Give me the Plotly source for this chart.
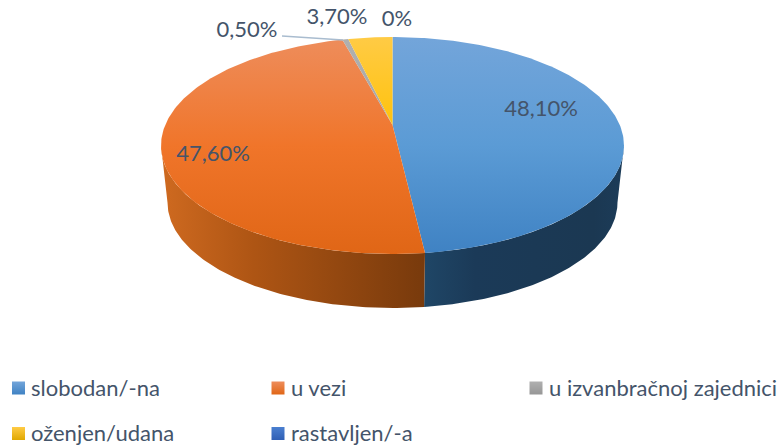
"""
Bracni status - 3D pie
"""

import numpy as np
import plotly.graph_objects as go

# data
categories = ['slobodan/-na', 'u vezi', 'u izvanbračnoj zajednici', 'oženjen/udana', 'rastavljen/-a']
values = [48.1, 47.6, 0.5, 3.7, 0.0]
value_labels = ['48,10%', '47,60%', '0,50%', '3,70%', '0%']

# top face gradients (top of pie -> bottom of pie)
top_colors = [
    [[0, '#73a5da'], [0.5, '#5b9bd5'], [1, '#3f82c3']],
    [[0, '#ee8d5c'], [0.5, '#f0752a'], [1, '#e06616']],
    [[0, '#b0b0b0'], [0.5, '#a5a5a5'], [1, '#969696']],
    [[0, '#ffcb45'], [0.5, '#ffc000'], [1, '#e0a800']],
    [[0, '#4a7fd0'], [0.5, '#4472c4'], [1, '#2f5fb5']],
]
wall_orange = [[0, '#cf6a20'], [0.35, '#ae5514'], [1, '#783a0c']]
wall_blue = [[0, '#1f4666'], [0.25, '#1b3a58'], [0.85, '#1b3852'], [1, '#1c3c59']]

# geometry of the tilted disc, in page pixels
CX = 392.5
APEX_Y = 125
PERSP = 0.189
RAD_X = 227.3
RAD_Y = 104.6
BOTTOM_SCALE = 0.972
BOTTOM_DROP = 57.6
# angle where the rim turns back, seen from the front
TURN = np.degrees(np.arccos(-PERSP))


def rim(angles, scale=1.0, drop=0.0):
    """angles in degrees, clockwise from the back of the pie"""
    a = np.radians(angles)
    u, v = np.sin(a), np.cos(a)
    w = 1 + PERSP * v
    return CX + scale * RAD_X * u / w, APEX_Y + drop - scale * RAD_Y * v / w


def wall_trace(a0, a1, colorscale, start, stop):
    angles = np.linspace(a0, a1, 120)
    xt, yt = rim(angles)
    xb, yb = rim(angles, BOTTOM_SCALE, BOTTOM_DROP)
    return go.Scatter(
        x=np.r_[xt, xb[::-1]], y=np.r_[yt, yb[::-1]],
        mode='lines', line=dict(width=0), fill='toself', hoverinfo='skip',
        fillgradient=dict(type='horizontal', colorscale=colorscale, start=start, stop=stop),
    )


fig = go.Figure()

edges = np.r_[0, np.cumsum(values)] / sum(values) * 360

# side wall
fig.add_trace(wall_trace(TURN, edges[1], wall_blue, 425, 624))
fig.add_trace(wall_trace(edges[1], 360 - TURN, wall_orange, 161, 425))

# top face
for i, val in enumerate(values):
    if val == 0:
        continue
    xr, yr = rim(np.linspace(edges[i], edges[i + 1], 200))
    fig.add_trace(go.Scatter(
        x=np.r_[CX, xr, CX], y=np.r_[APEX_Y, yr, APEX_Y],
        mode='lines', line=dict(width=0), fill='toself', hoverinfo='skip',
        fillgradient=dict(type='vertical', colorscale=top_colors[i], start=37, stop=254),
    ))

# leader line for 0,50%
fig.add_trace(go.Scatter(
    x=[282, 343], y=[36, 40], mode='lines',
    line=dict(color='#a9bccf', width=1.3), hoverinfo='skip',
))

# data labels
label_x = [541, 213, 247, 337, 397]
label_y = [110, 155, 31, 18, 20]
fig.add_trace(go.Scatter(
    x=label_x, y=label_y, mode='text', text=value_labels, textposition='middle center',
    textfont=dict(family='Lato', size=22, color='#44546a'), hoverinfo='skip',
))

# legend
legend_x = [18.5, 278, 536, 18.5, 278]
legend_y = [388, 388, 388, 433.5, 433.5]
for i, name in enumerate(categories):
    fig.add_trace(go.Scatter(
        x=[legend_x[i]], y=[legend_y[i]], mode='markers', hoverinfo='skip',
        marker=dict(
            symbol='square', size=13, color=top_colors[i][0][1],
            gradient=dict(type='vertical', color=top_colors[i][2][1]),
            line=dict(width=0),
        ),
    ))
    fig.add_annotation(
        x=legend_x[i] + 10.5, y=legend_y[i] - 1, text=name, showarrow=False,
        xanchor='left', yanchor='middle',
        font=dict(family='Lato', size=22, color='#44546a'),
    )

fig.update_layout(
    width=782, height=447,
    margin=dict(l=0, r=0, t=0, b=0),
    paper_bgcolor='white', plot_bgcolor='white',
    showlegend=False,
    xaxis=dict(range=[0, 782], visible=False, fixedrange=True),
    yaxis=dict(range=[447, 0], visible=False, fixedrange=True),
)

fig.write_html(
    "out.html",
    config={'displayModeBar': False},
    post_script="document.body.style.margin='0';",
)
